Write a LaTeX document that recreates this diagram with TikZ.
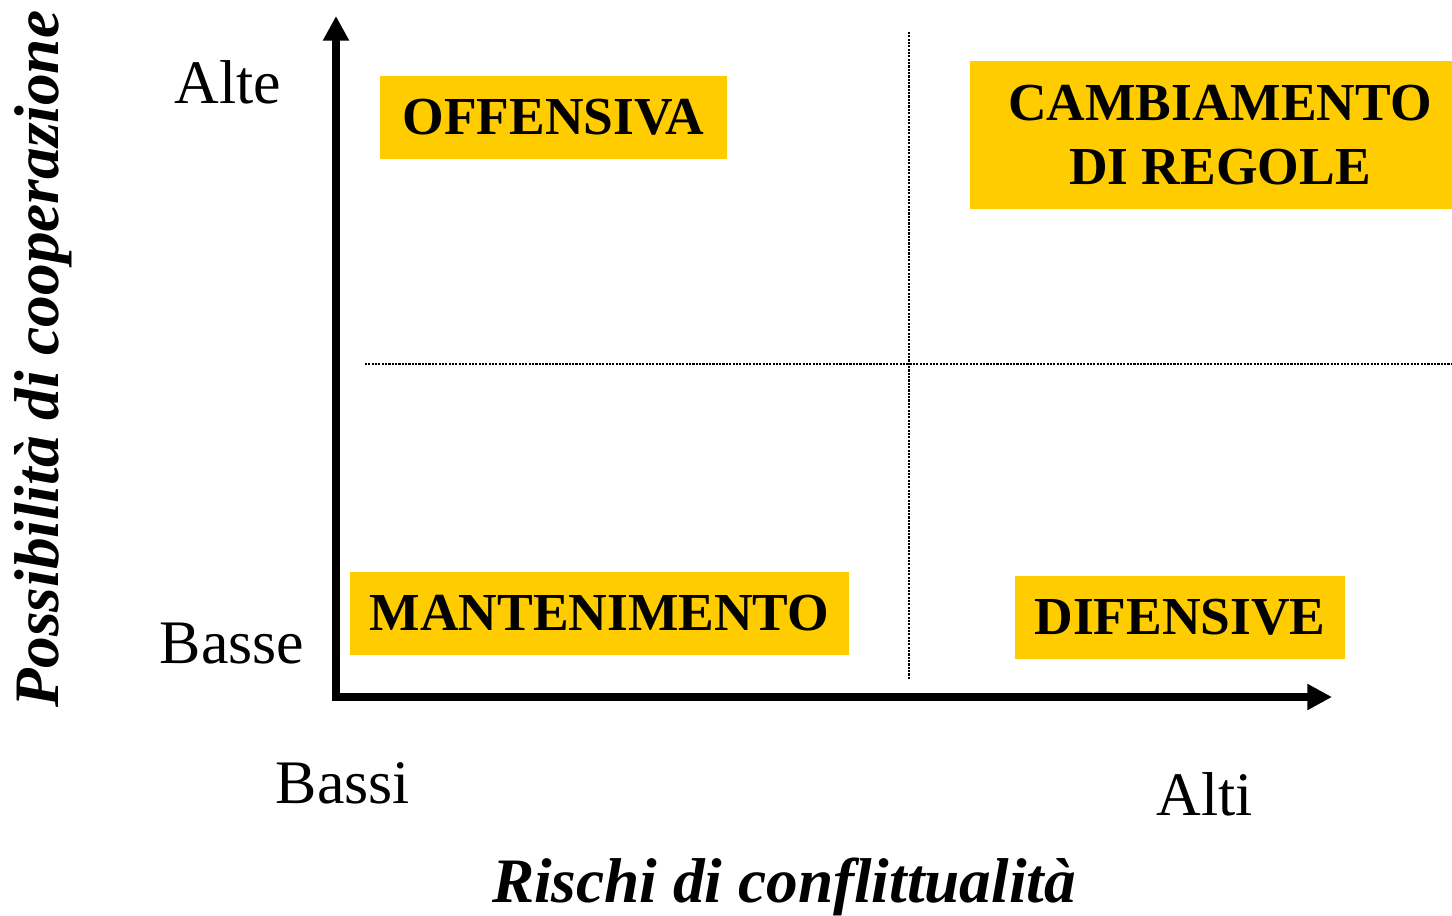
\documentclass[tikz,border=0pt]{standalone}
\usepackage{fontspec}
\setmainfont{Liberation Serif}
\usepackage{tikz}
\usetikzlibrary{positioning,arrows.meta}
\definecolor{boxyellow}{RGB}{255,204,0}

\begin{document}
\begin{tikzpicture}[
  x=0.01cm, y=-0.01cm,
  axis/.style={line width=2pt,-{Triangle[length=7pt,width=7pt]}},
  grid/.style={line width=0.6pt,dash pattern=on 0.6pt off 0.35pt},
  quadrant/.style={fill=boxyellow,inner sep=0pt,align=center,
    font=\fontsize{15.2}{18.2}\selectfont\bfseries},
  level/.style={anchor=base,font=\fontsize{17.6}{20}\selectfont},
  axtitle/.style={anchor=base,font=\fontsize{18}{21}\selectfont\bfseries\itshape}
]
\useasboundingbox (0,0) rectangle (1452,915);

\coordinate (o) at (336,697);
\coordinate (ytop) at (336,16);
\coordinate (xend) at (1332,697);
\coordinate (vtop) at (909,32);
\coordinate (vbot) at (909,680);
\coordinate (hleft) at (365,364);
\coordinate (hright) at (1452,364);

% quadrant lines
\draw[grid] (vtop) -- (vbot);
\draw[grid] (hleft) -- (hright);

% boxes
\node[quadrant,minimum width=3.47cm,minimum height=0.83cm] (off) at (553.5,117.5) {OFFENSIVA};
\node[quadrant,minimum width=4.82cm,minimum height=1.48cm] (camb) at (1211,135)
  {\hspace*{0.18cm}CAMBIAMENTO\\\hspace*{0.18cm}DI REGOLE};
\node[quadrant,minimum width=4.99cm,minimum height=0.83cm] (mant) at (599.5,613.5) {MANTENIMENTO};
\node[quadrant,minimum width=3.30cm,minimum height=0.83cm] (dif) at (1180,617.5) {DIFENSIVE};

% axes
\path (o) edge[axis] (ytop)
      ([xshift=-1pt]o) edge[axis] (xend);

% levels
\node[level] (alte) at (228,103) {Alte};
\node[level] (basse) at (232,663) {Basse};
\node[level] (bassi) at (343,803) {Bassi};
\node[level] (alti) at (1205,815) {Alti};

\node[axtitle] (rischi) at (784,902) {Rischi di conflittualità};
\node[axtitle,rotate=90] (poss) at (58,359) {Possibilità di cooperazione};

\end{tikzpicture}
\end{document}
